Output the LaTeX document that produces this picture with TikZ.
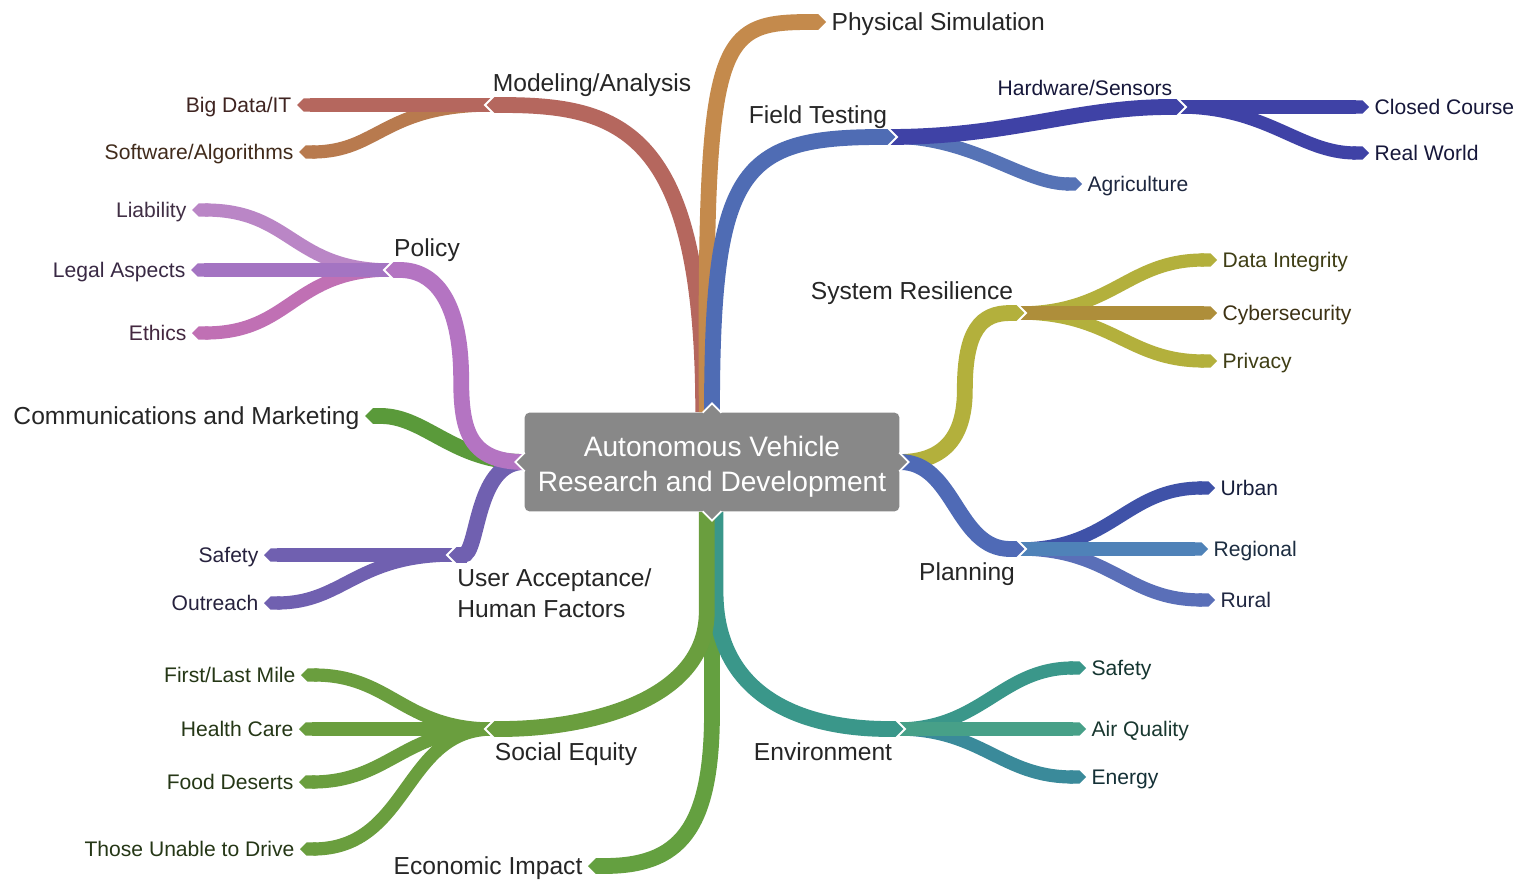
\documentclass[tikz,border=0pt]{standalone}
\usepackage{fontspec}
\setmainfont{Liberation Sans}
\usetikzlibrary{arrows.meta}
\pgfdeclarelayer{back}
\pgfsetlayers{back,main}

\definecolor{cModel}{HTML}{B5675E}
\definecolor{cSoft}{HTML}{B87A4E}
\definecolor{cPhys}{HTML}{C48A4C}
\definecolor{cField}{HTML}{4F6CB4}
\definecolor{cHard}{HTML}{3F42A6}
\definecolor{cAgri}{HTML}{5673B6}
\definecolor{cSys}{HTML}{B3B03C}
\definecolor{cCyber}{HTML}{AE8E3A}
\definecolor{cPlan}{HTML}{4F6AB6}
\definecolor{cUrban}{HTML}{3F52A8}
\definecolor{cRegion}{HTML}{4F82B8}
\definecolor{cRural}{HTML}{5A6FB8}
\definecolor{cEnv}{HTML}{3A978A}
\definecolor{cAir}{HTML}{47A088}
\definecolor{cEnergy}{HTML}{3A8A9A}
\definecolor{cEcon}{HTML}{64A040}
\definecolor{cSocial}{HTML}{6A9E3E}
\definecolor{cUser}{HTML}{7060B0}
\definecolor{cComm}{HTML}{5A9A3A}
\definecolor{cPolicy}{HTML}{B474C2}
\definecolor{cLiab}{HTML}{BA86C6}
\definecolor{cLegal}{HTML}{A474C2}
\definecolor{cEthic}{HTML}{C070B4}
\definecolor{cRoot}{HTML}{888888}

\begin{document}
\begin{tikzpicture}[
    x=0.02cm, y=-0.02cm,
    >={Triangle Cap},
    trunk/.style={draw=#1, line width=9pt},
    twig/.style={draw=#1, line width=7.5pt},
    hub/.style={font=\fontsize{14}{17}\selectfont, text=black!85, inner sep=3pt, text height=10pt, text depth=0pt},
    leaf/.style={font=\fontsize{12}{14}\selectfont, text=#1!35!black, inner sep=3pt, text height=8.6pt, text depth=0pt},
    rootbox/.style={fill=cRoot, text=white, rounded corners=3pt, minimum width=7.5cm, minimum height=1.98cm, align=center, inner sep=0pt, font=\fontsize{16}{19.8}\selectfont},
    notch/.pic={\draw[white, line width=1.1pt] (-4.9pt,-4.9pt) -- (0,0) -- (-4.9pt,4.9pt);},
    roottip/.pic={\fill[cRoot] (-5pt,-1.5pt) -- (-5pt,0) -- (0,5pt) -- (5pt,0) -- (5pt,-1.5pt) -- cycle;
        \draw[white, line width=1pt] (-5.3pt,-.3pt) -- (0,5pt) -- (5.3pt,-.3pt);}
]
\useasboundingbox (0,0) rectangle (1524,882);

% Centro
\node[rootbox] (root) at (712,462) {\rule{0pt}{16.7pt}Autonomous Vehicle\\Research and Development};
\pic at (root.north) {roottip};
\pic[rotate=180] at (root.south) {roottip};
\pic[rotate=90] at (root.west) {roottip};
\pic[rotate=-90] at (root.east) {roottip};

% Punte dei rami
\coordinate (ma) at (485,105);
\coordinate (ft) at (897,137);
\coordinate (hw) at (1186,107);
\coordinate (sr) at (1026,313);
\coordinate (pl) at (1026,549);
\coordinate (en) at (905,729);
\coordinate (se) at (485,729);
\coordinate (ua) at (447,555);
\coordinate (po) at (384,270);

% Rami principali
\node[hub] (maL) at (592,83) {Modeling/Analysis};
\node[hub, anchor=west] (psL) at (826,22) {Physical Simulation};
\node[hub] (ftL) at (818,115) {Field Testing};
\node[leaf=cHard] (hwL) at (1085,88) {Hardware/Sensors};
\node[hub] (srL) at (912,291) {System Resilience};
\node[hub] (plL) at (967,572) {Planning};
\node[hub] (enL) at (823,752) {Environment};
\node[hub] (seL) at (566,752) {Social Equity};
\node[hub, anchor=east] (eiL) at (588,866) {Economic Impact};
\node[hub, anchor=east] (cmL) at (365,416) {Communications and Marketing};
\node[hub] (poL) at (427,248) {Policy};
\node[font=\fontsize{14}{17.6}\selectfont, text=black!85, align=left, anchor=base west, inner sep=0pt] (uaL) at (457,617) {User Acceptance/\\Human Factors};

% Foglie
\node[leaf=cModel, anchor=east] (bd) at (297,105) {Big Data/IT};
\node[leaf=cSoft, anchor=east] (sw) at (299,152) {Software/Algorithms};
\node[leaf=cHard, anchor=west] (cc) at (1369,107) {Closed Course};
\node[leaf=cHard, anchor=west] (rw) at (1369,153) {Real World};
\node[leaf=cAgri, anchor=west] (ag) at (1082,184) {Agriculture};
\node[leaf=cSys, anchor=west] (di) at (1217,260) {Data Integrity};
\node[leaf=cCyber, anchor=west] (cy) at (1217,313) {Cybersecurity};
\node[leaf=cSys, anchor=west] (pr) at (1217,361) {Privacy};
\node[leaf=cUrban, anchor=west] (ur) at (1215,488) {Urban};
\node[leaf=cRegion, anchor=west] (rg) at (1208,549) {Regional};
\node[leaf=cRural, anchor=west] (ru) at (1215,600) {Rural};
\node[leaf=cEnv, anchor=west] (es) at (1086,668) {Safety};
\node[leaf=cAir, anchor=west] (aq) at (1086,729) {Air Quality};
\node[leaf=cEnergy, anchor=west] (eg) at (1086,777) {Energy};
\node[leaf=cSocial, anchor=east] (fl) at (301,675) {First/Last Mile};
\node[leaf=cSocial, anchor=east] (hc) at (299,729) {Health Care};
\node[leaf=cSocial, anchor=east] (fd) at (299,782) {Food Deserts};
\node[leaf=cSocial, anchor=east] (tu) at (300,849) {Those Unable to Drive};
\node[leaf=cUser, anchor=east] (us) at (264,555) {Safety};
\node[leaf=cUser, anchor=east] (ou) at (264,603) {Outreach};
\node[leaf=cLiab, anchor=east] (li) at (192,210) {Liability};
\node[leaf=cLegal, anchor=east] (la) at (191,270) {Legal Aspects};
\node[leaf=cEthic, anchor=east] (et) at (192,333) {Ethics};

\begin{pgfonlayer}{back}
\fill[white] (0,0) rectangle (1524,882);

% terzo livello
\draw[twig=cHard, ->] ([xshift=-4.5pt]hw) .. controls +(90,0) and +(-70,0) .. (rw.west);
\draw[twig=cHard, ->] ([xshift=-4.5pt]hw) -- (cc.west);

% secondo livello
\draw[twig=cSoft, ->] ([xshift=4.5pt]ma) .. controls +(-110,0) and +(80,0) .. (sw.east);
\draw[twig=cModel, ->] ([xshift=4.5pt]ma) -- (bd.east);
\draw[twig=cAgri, ->] ([xshift=-4.5pt]ft) .. controls +(85,0) and +(-60,0) .. (ag.west);
\draw[trunk=cHard, ->] ([xshift=-4.5pt]ft) .. controls +(120,0) and +(-110,0) .. (hw);
\draw[twig=cSys, ->] ([xshift=-4.5pt]sr) .. controls +(95,0) and +(-90,0) .. (di.west);
\draw[twig=cSys, ->] ([xshift=-4.5pt]sr) .. controls +(95,0) and +(-90,0) .. (pr.west);
\draw[twig=cCyber, ->] ([xshift=-4.5pt]sr) -- (cy.west);
\draw[twig=cUrban, ->] ([xshift=-4.5pt]pl) .. controls +(95,0) and +(-90,0) .. (ur.west);
\draw[twig=cRural, ->] ([xshift=-4.5pt]pl) .. controls +(95,0) and +(-90,0) .. (ru.west);
\draw[twig=cRegion, ->] ([xshift=-4.5pt]pl) -- (rg.west);
\draw[twig=cEnv, ->] ([xshift=-4.5pt]en) .. controls +(85,0) and +(-85,0) .. (es.west);
\draw[twig=cEnergy, ->] ([xshift=-4.5pt]en) .. controls +(85,0) and +(-85,0) .. (eg.west);
\draw[twig=cAir, ->] ([xshift=-4.5pt]en) -- (aq.west);
\draw[twig=cSocial, ->] ([xshift=4.5pt]se) .. controls +(-90,0) and +(90,0) .. (fl.east);
\draw[twig=cSocial, ->] ([xshift=4.5pt]se) .. controls +(-90,0) and +(90,0) .. (fd.east);
\draw[twig=cSocial, ->] ([xshift=4.5pt]se) .. controls +(-90,0) and +(110,0) .. (tu.east);
\draw[twig=cSocial, ->] ([xshift=4.5pt]se) -- (hc.east);
\draw[twig=cUser, ->] ([xshift=4.5pt]ua) .. controls +(-100,0) and +(80,0) .. (ou.east);
\draw[twig=cUser, ->] ([xshift=4.5pt]ua) -- (us.east);
\draw[twig=cLiab, ->] ([xshift=4.5pt]po) .. controls +(-100,0) and +(100,0) .. (li.east);
\draw[twig=cEthic, ->] ([xshift=4.5pt]po) .. controls +(-100,0) and +(100,0) .. (et.east);
\draw[twig=cLegal, ->] ([xshift=4.5pt]po) -- (la.east);

% primo livello
\draw[trunk=cModel, ->] ([xshift=-5pt]root.north) .. controls +(0,-283) and +(135,0) .. (ma);
\draw[trunk=cPhys, ->] ([xshift=-3pt]root.north) .. controls +(-2,-373) and +(-111,0) .. (psL.west);
\draw[trunk=cField, ->] (root.north) .. controls +(0,-243) and +(-157,0) .. (ft);
\draw[trunk=cSys, ->] (root.east) .. controls +(50,0) and +(0,40) .. ++(65,-72) .. controls +(0,-60) and +(-45,0) .. (sr);
\draw[trunk=cPlan, ->] (root.east) .. controls +(55,0) and +(-70,0) .. (pl);
\draw[trunk=cComm, ->] (root.west) .. controls +(-70,0) and +(60,0) .. (cmL.east);
\draw[trunk=cUser, ->] (root.west) .. controls +(-50,0) and +(32,0) .. (ua);
\draw[trunk=cPolicy, ->] (root.west) .. controls +(-55,0) and +(0,50) .. ++(-63,-82) .. controls +(0,-80) and +(50,0) .. (po);
\draw[trunk=cEcon, ->] (root.south) -- ++(0,200) .. controls +(0,120) and +(90,0) .. (eiL.east);
\draw[trunk=cEnv, ->] ([xshift=2pt]root.south) -- ++(0,80) .. controls +(0,100) and +(-110,0) .. (en);
\draw[trunk=cSocial, ->] ([xshift=-3pt]root.south) -- ++(0,100) .. controls +(0,90) and +(100,0) .. (se);

% tacche
\pic[rotate=180] at (ma) {notch};
\pic at (ft) {notch};
\pic at (hw) {notch};
\pic at (sr) {notch};
\pic at (pl) {notch};
\pic at (en) {notch};
\pic[rotate=180] at (se) {notch};
\pic[rotate=180] at (ua) {notch};
\pic[rotate=180] at (po) {notch};
\end{pgfonlayer}
\end{tikzpicture}
\end{document}
